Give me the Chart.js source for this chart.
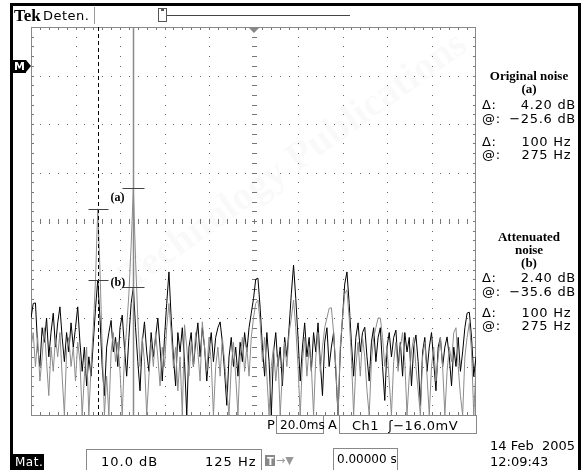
<!DOCTYPE html>
<html>
<head>
<meta charset="utf-8">
<script src="https://cdn.jsdelivr.net/npm/chart.js@4.4.0/dist/chart.umd.min.js"></script>
<style>
  html, body { margin: 0; padding: 0; background: #fff; }
  #wrap { position: relative; width: 584px; height: 470px; overflow: hidden;
          font-family: "DejaVu Sans", sans-serif; color: #000; }
  #scope { position: absolute; left: 0; top: 0; }
  .t { position: absolute; white-space: pre; font-size: 13px; line-height: 14px; letter-spacing: 1px; }
  .hd { position: absolute; left: 482px; width: 94px; text-align: center;
        font-family: "Liberation Serif", serif; font-weight: bold; font-size: 13px; line-height: 13px; }
  .row { position: absolute; left: 482px; width: 94px; display: flex; justify-content: space-between;
         font-size: 13px; line-height: 13px; white-space: pre; letter-spacing: 0.7px; }
  .box { position: absolute; border: 1px solid #888; box-sizing: border-box; font-size: 12px;
         white-space: pre; }
  .blk { position: absolute; background: #000; }
</style>
</head>
<body>
<div id="wrap">
  <canvas id="scope" width="584" height="470"></canvas>

  <!-- cadre noir -->
  <div class="blk" style="left:10px;top:3px;width:571px;height:3px"></div>
  <div class="blk" style="left:10px;top:3px;width:3px;height:467px"></div>
  <div class="blk" style="left:578px;top:3px;width:3px;height:467px"></div>

  <!-- barre du haut -->
  <div class="t" style="left:14px;top:7px;font-family:'Liberation Serif',serif;font-weight:bold;font-size:17px;line-height:17px;letter-spacing:0">Tek</div>
  <div class="t" style="left:43px;top:9px;letter-spacing:0.5px">Deten.</div>
  <div style="position:absolute;left:94px;top:7px;width:1px;height:17px;background:#999"></div>
  <div style="position:absolute;left:158px;top:8px;width:9px;height:14px;border:1px solid #555;box-sizing:border-box"></div>
  <div style="position:absolute;left:161px;top:9px;width:3px;height:2px;background:#555"></div>
  <div style="position:absolute;left:167px;top:15px;width:183px;height:1px;background:#444"></div>

  <!-- marqueur M -->
  <div class="blk" style="left:13px;top:60px;width:13px;height:13px"></div>
  <div style="position:absolute;left:26px;top:60px;width:0;height:0;border-top:6.5px solid transparent;border-bottom:6.5px solid transparent;border-left:5px solid #000"></div>
  <div class="t" style="left:14px;top:60px;color:#fff;font-weight:bold;font-size:11px;letter-spacing:0">M</div>

  <!-- panneau de droite -->
  <div class="hd" style="top:69px">Original noise</div>
  <div class="hd" style="top:82px">(a)</div>
  <div class="row" style="top:98px"><span>Δ:</span><span>4.20 dB</span></div>
  <div class="row" style="top:112px"><span>@:</span><span>−25.6 dB</span></div>
  <div class="row" style="top:135px"><span>Δ:</span><span>100 Hz </span></div>
  <div class="row" style="top:148px"><span>@:</span><span>275 Hz </span></div>

  <div class="hd" style="top:230px">Attenuated</div>
  <div class="hd" style="top:243px">noise</div>
  <div class="hd" style="top:256px">(b)</div>
  <div class="row" style="top:271px"><span>Δ:</span><span>2.40 dB</span></div>
  <div class="row" style="top:285px"><span>@:</span><span>−35.6 dB</span></div>
  <div class="row" style="top:306px"><span>Δ:</span><span>100 Hz </span></div>
  <div class="row" style="top:319px"><span>@:</span><span>275 Hz </span></div>

  <!-- barre du bas -->
  <div class="t" style="left:267px;top:418px">P</div>
  <div class="box" style="left:276px;top:415px;width:48px;height:19px;padding:2px 0 0 3px">20.0ms</div>
  <div class="t" style="left:328px;top:418px">A</div>
  <div class="box" style="left:339px;top:415px;width:138px;height:19px;padding:2px 0 0 12px;font-size:13px;letter-spacing:0.5px">Ch1  ʃ−16.0mV</div>

  <div class="blk" style="left:13px;top:454px;width:31px;height:16px"></div>
  <div class="t" style="left:15px;top:455px;color:#fff;font-size:12px;letter-spacing:0.5px">Mat.</div>
  <div class="box" style="left:86px;top:449px;width:176px;height:24px"></div>
  <div class="t" style="left:101px;top:455px">10.0 dB</div>
  <div class="t" style="left:205px;top:455px">125 Hz</div>
  <div style="position:absolute;left:265px;top:455px;width:10px;height:11px;background:#888"></div>
  <div class="t" style="left:267px;top:455px;color:#fff;font-size:10px;font-weight:bold;letter-spacing:0">T</div>
  <div class="t" style="left:276px;top:454px;color:#999;font-size:11px;letter-spacing:0">→▼</div>
  <div class="box" style="left:333px;top:448px;width:65px;height:25px;padding:3px 0 0 3px">0.00000 s</div>

  <div class="t" style="left:490px;top:439px;letter-spacing:0">14 Feb  2005</div>
  <div class="t" style="left:490px;top:455px;letter-spacing:0">12:09:43</div>
</div>

<script>
// Spectre FFT : 125 Hz/div, 10 dB/div, un point tous les 6.25 Hz
const binHz = 6.25;

// bruit atténué (b), trace noire, en dB
const attenuatedDb = [
  -60, -57, -56.9, -66, -70, -62, -65, -60, -68, -63,
  -59, -66, -61, -57.7, -64, -69, -63, -67, -61, -66,
  -62, -57.7, -65, -71, -66, -74, -68, -72, -65, -58,
  -52.2, -60, -70, -76, -66, -63, -60.5, -67, -64, -70,
  -62, -59.4, -66, -72, -64, -57, -53.6, -62, -69, -75,
  -65, -60.8, -67, -71, -63, -68, -64, -60, -66, -73,
  -64, -57, -50.5, -60, -68, -74, -63, -67, -62, -69,
  -80, -66, -63, -70, -65, -61, -68, -62, -66, -73,
  -67, -63, -69, -64, -62, -60.8, -65, -71, -78, -68,
  -64, -70, -66, -72, -65, -69, -63, -67, -62, -59,
  -56, -52, -51.8, -58, -66, -72, -63, -69, -80, -67,
  -63, -70, -66, -74, -64, -68, -62, -55, -49.1, -56,
  -64, -73, -66, -61, -68, -64, -71, -63, -67, -61,
  -69, -76, -65, -62, -70, -66, -63, -71, -80, -67,
  -60, -53, -50.5, -57, -65, -72, -64, -61, -67, -63,
  -61.9, -68, -73, -65, -62, -69, -64, -62, -70, -77,
  -66, -63, -68, -64, -62.5, -70, -65, -72, -63, -67,
  -64, -74, -66, -63.5, -69, -78, -67, -64, -71, -66,
  -63, -69, -75, -66, -64, -70, -66, -63.9, -68, -74,
  -66, -70, -64, -71, -67, -62, -59, -58.8, -64, -72,
  -68
];

// bruit original (a), trace grise, en dB
const originalDb = [
  -66, -63, -70, -64, -73, -68, -62, -69, -76, -66,
  -71, -64, -68, -63, -72, -80, -67, -64, -70, -66,
  -73, -65, -69, -80, -72, -66, -80, -70, -62, -52,
  -37.5, -50, -66, -80, -72, -80, -67, -63, -69, -65,
  -71, -80, -68, -62, -55, -45, -33.2, -48, -60, -70,
  -64, -69, -80, -72, -65, -70, -63, -68, -74, -66,
  -70, -62, -57, -63, -70, -66, -75, -68, -80, -61.4,
  -66, -72, -65, -70, -63, -67, -73, -60.8, -66, -71,
  -64, -69, -80, -70, -66, -72, -64, -69, -75, -80,
  -70, -65, -72, -80, -68, -64, -71, -66, -72, -64,
  -60, -57, -56.3, -61, -69, -64, -72, -80, -70, -66,
  -73, -68, -80, -71, -65, -70, -63, -60, -56.3, -62,
  -70, -80, -69, -64, -72, -66, -70, -80, -68, -63,
  -71, -66, -62, -60, -58, -57.9, -63, -70, -80, -66,
  -60, -55, -54.2, -60, -68, -80, -70, -65, -72, -64,
  -68, -75, -80, -69, -64, -62, -60, -60, -64, -70,
  -66, -73, -80, -69, -65, -71, -66, -63, -69, -80,
  -72, -67, -64, -70, -75, -80, -68, -65, -72, -80,
  -70, -66, -73, -68, -64, -70, -80, -71, -66, -69,
  -63, -62, -70, -76, -80, -68, -64, -61, -67, -80,
  -70
];

// curseurs (Hz) et repères (dB)
const cursorHz = [187.5, 287.5];
const markA = [-37.5, -33.2];
const markB = [-52.2, -53.6];

const toPoints = arr => arr.map((v, i) => ({ x: i * binHz, y: v }));

// graticule de l'oscilloscope
const graticule = {
  id: 'graticule',
  beforeDatasetsDraw(chart) {
    const { ctx, chartArea: a } = chart;
    const w = a.right - a.left, h = a.bottom - a.top;
    const dx = w / 10, dy = h / 8;
    ctx.save();
    // filigrane très pâle
    ctx.save();
    ctx.translate(300, 170);
    ctx.rotate(-0.62);
    ctx.fillStyle = 'rgba(0,0,0,0.025)';
    ctx.font = 'bold 40px "Liberation Serif", serif';
    ctx.textAlign = 'center';
    ctx.fillText('Technology Publications', 0, 0);
    ctx.restore();

    ctx.fillStyle = '#666';
    // pointillés des divisions
    for (let i = 1; i < 10; i++) {
      const x = Math.round(a.left + i * dx);
      for (let j = 1; j < 40; j++) ctx.fillRect(x, Math.round(a.top + j * dy / 5), 1, 1);
    }
    for (let j = 1; j < 8; j++) {
      const y = Math.round(a.top + j * dy);
      for (let i = 1; i < 50; i++) ctx.fillRect(Math.round(a.left + i * dx / 5), y, 1, 1);
    }
    // graduations sur les axes centraux et les bords
    ctx.fillStyle = '#777';
    const cx = Math.round(a.left + 5 * dx), cy = Math.round(a.top + 4 * dy);
    for (let j = 1; j < 40; j++) {
      const y = Math.round(a.top + j * dy / 5);
      ctx.fillRect(cx - 2, y, 5, 1);
      ctx.fillRect(a.left, y, 3, 1);
      ctx.fillRect(a.right - 3, y, 3, 1);
    }
    for (let i = 1; i < 50; i++) {
      const x = Math.round(a.left + i * dx / 5);
      ctx.fillRect(x, cy - 2, 1, 5);
      ctx.fillRect(x, a.top, 1, 3);
      ctx.fillRect(x, a.bottom - 3, 1, 3);
    }
    // bordure
    ctx.strokeStyle = '#888';
    ctx.lineWidth = 1;
    ctx.strokeRect(a.left + 0.5, a.top + 0.5, w - 1, h);
    // marqueur de déclenchement
    ctx.fillStyle = '#888';
    ctx.beginPath();
    ctx.moveTo(cx - 5, a.top + 1);
    ctx.lineTo(cx + 5, a.top + 1);
    ctx.lineTo(cx, a.top + 6);
    ctx.fill();
    ctx.restore();
  },
  afterDatasetsDraw(chart) {
    const { ctx, chartArea: a, scales: { x, y } } = chart;
    const x1 = Math.round(x.getPixelForValue(cursorHz[0])) + 0.5;
    const x2 = Math.round(x.getPixelForValue(cursorHz[1])) + 0.5;
    ctx.save();
    // curseur pointillé
    ctx.strokeStyle = '#000';
    ctx.lineWidth = 1;
    ctx.setLineDash([4, 3]);
    ctx.beginPath();
    ctx.moveTo(x1, a.top);
    ctx.lineTo(x1, a.bottom);
    ctx.stroke();
    ctx.setLineDash([]);
    // curseur plein
    ctx.strokeStyle = '#8a8a8a';
    ctx.lineWidth = 1.5;
    ctx.beginPath();
    ctx.moveTo(x2, a.top);
    ctx.lineTo(x2, a.bottom);
    ctx.stroke();
    // repères horizontaux
    ctx.strokeStyle = '#444';
    ctx.lineWidth = 1;
    const marks = [[x1, markA[0], 10], [x2, markA[1], 11], [x1, markB[0], 10], [x2, markB[1], 11]];
    marks.forEach(([px, v, half]) => {
      const py = Math.round(y.getPixelForValue(v)) + 0.5;
      ctx.beginPath();
      ctx.moveTo(px - half, py);
      ctx.lineTo(px + half, py);
      ctx.stroke();
    });
    // étiquettes (a) et (b)
    ctx.fillStyle = '#000';
    ctx.font = 'bold 12px "Liberation Serif", serif';
    ctx.textBaseline = 'middle';
    ctx.fillText('(a)', x1 + 12, y.getPixelForValue(markA[0]) - 11);
    ctx.fillText('(b)', x1 + 12, y.getPixelForValue(markB[0]) + 3);
    ctx.restore();
  }
};

new Chart(document.getElementById('scope'), {
  type: 'line',
  data: {
    datasets: [
      {
        label: 'Original noise (a)',
        data: toPoints(originalDb),
        borderColor: '#8c8c8c',
        borderWidth: 1,
        pointRadius: 0,
        tension: 0
      },
      {
        label: 'Attenuated noise (b)',
        data: toPoints(attenuatedDb),
        borderColor: '#000',
        borderWidth: 1,
        pointRadius: 0,
        tension: 0
      }
    ]
  },
  options: {
    responsive: false,
    animation: false,
    devicePixelRatio: 1,
    layout: { padding: { left: 31, top: 27, right: 108, bottom: 55 } },
    scales: {
      x: { type: 'linear', min: 0, max: 1250, display: false },
      y: { min: -80, max: 0, display: false }
    },
    plugins: {
      legend: { display: false },
      tooltip: { enabled: false }
    }
  },
  plugins: [graticule]
});
</script>
</body>
</html>
